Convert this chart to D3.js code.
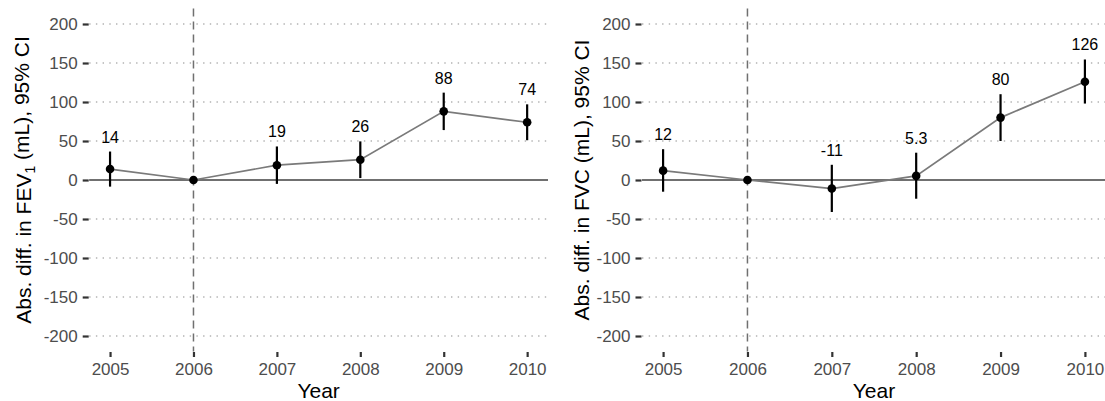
<!DOCTYPE html>
<html>
<head>
<meta charset="utf-8">
<script src="https://cdn.jsdelivr.net/npm/d3@7/dist/d3.min.js"></script>
<style>
  html, body { margin: 0; padding: 0; background: #fff; }
  svg { display: block; font-family: "Liberation Sans", Arial, sans-serif; }
</style>
</head>
<body>
<svg id="chart" width="1105" height="401"></svg>
<script>
// Years on the x axis
const years = [2005, 2006, 2007, 2008, 2009, 2010];
const referenceYear = 2006;

// FEV1: absolute difference vs reference year (mL) with 95% CI
const fevEstimate = [14, 0, 19, 26, 88, 74];
const fevLower    = [-8.5, null, -5, 2.5, 64, 51];
const fevUpper    = [36.5, null, 43, 49.5, 112, 97];
const fevLabels   = ["14", null, "19", "26", "88", "74"];

// FVC: absolute difference vs reference year (mL) with 95% CI
const fvcEstimate = [12, 0, -11, 5.3, 80, 126];
const fvcLower    = [-15, null, -41, -24, 50, 98];
const fvcUpper    = [39.5, null, 19.5, 35, 110, 154.5];
const fvcLabels   = ["12", null, "-11", "5.3", "80", "126"];

const yTicks = [-200, -150, -100, -50, 0, 50, 100, 150, 200];
const yDomain = [-220, 220];
const xDomain = [2004.75, 2010.25];

const svg = d3.select("#chart");
const plainNumber = d => String(d);   // ASCII hyphen for negatives

function drawPanel(cfg) {
  const x = d3.scaleLinear().domain(xDomain).range([cfg.left, cfg.right]);
  const y = d3.scaleLinear().domain(yDomain).range([351.6, 8.4]);
  const g = svg.append("g");

  // dotted horizontal grid
  g.selectAll("line.grid").data(yTicks).enter().append("line")
    .attr("x1", cfg.left).attr("x2", cfg.right)
    .attr("y1", d => y(d)).attr("y2", d => y(d))
    .attr("stroke", "#b3b3b3").attr("stroke-width", 1.4)
    .attr("stroke-dasharray", "1.4,5.3");

  // y axis ticks and labels
  const yAxis = d3.axisLeft(y).tickValues(yTicks).tickSize(6).tickPadding(5)
    .tickFormat(plainNumber);
  const ya = g.append("g").attr("transform", `translate(${cfg.left - 0.5},0)`).call(yAxis);
  ya.select(".domain").remove();
  ya.selectAll(".tick line").attr("stroke", "#333").attr("stroke-width", 2.2);
  ya.selectAll(".tick text").attr("fill", "#4d4d4d")
    .style("font-size", "17px").style("font-family", "Liberation Sans, Arial, sans-serif");

  // x axis ticks and labels
  const xAxis = d3.axisBottom(x).tickValues(years).tickSize(5).tickPadding(6)
    .tickFormat(plainNumber);
  const xa = g.append("g").attr("transform", `translate(0,352)`).call(xAxis);
  xa.select(".domain").remove();
  xa.selectAll(".tick line").attr("stroke", "#333").attr("stroke-width", 2.2);
  xa.selectAll(".tick text").attr("fill", "#4d4d4d")
    .style("font-size", "17px").style("font-family", "Liberation Sans, Arial, sans-serif");

  // zero reference line
  g.append("line")
    .attr("x1", cfg.left).attr("x2", cfg.right)
    .attr("y1", y(0)).attr("y2", y(0))
    .attr("stroke", "#707070").attr("stroke-width", 1.8);

  // reference year marker
  g.append("line")
    .attr("x1", x(referenceYear)).attr("x2", x(referenceYear))
    .attr("y1", y(yDomain[1])).attr("y2", y(yDomain[0]))
    .attr("stroke", "#707070").attr("stroke-width", 1.5)
    .attr("stroke-dasharray", "8,5");

  const data = years.map((yr, i) => ({
    year: yr, est: cfg.est[i], lo: cfg.lo[i], hi: cfg.hi[i], label: cfg.labels[i]
  }));

  // connecting line
  g.append("path").datum(data)
    .attr("fill", "none").attr("stroke", "#7a7a7a").attr("stroke-width", 1.7)
    .attr("d", d3.line().x(d => x(d.year)).y(d => y(d.est)));

  const withCI = data.filter(d => d.lo !== null);

  // confidence intervals
  g.selectAll("line.ci").data(withCI).enter().append("line")
    .attr("x1", d => x(d.year)).attr("x2", d => x(d.year))
    .attr("y1", d => y(d.lo)).attr("y2", d => y(d.hi))
    .attr("stroke", "#000").attr("stroke-width", 2.2);

  // point estimates
  g.selectAll("circle.pt").data(data).enter().append("circle")
    .attr("cx", d => x(d.year)).attr("cy", d => y(d.est)).attr("r", 4.3)
    .attr("fill", "#000");

  // value labels above CIs
  g.selectAll("text.val").data(withCI).enter().append("text")
    .attr("x", d => x(d.year)).attr("y", d => y(d.hi) - 9)
    .attr("text-anchor", "middle").attr("fill", "#000")
    .style("font-size", "16px")
    .text(d => d.label);

  // axis titles
  g.append("text")
    .attr("x", (cfg.left + cfg.right) / 2).attr("y", 398)
    .attr("text-anchor", "middle").attr("fill", "#000")
    .style("font-size", "21px").text("Year");

  const yt = g.append("text")
    .attr("transform", `translate(${cfg.titleX},${y(0)}) rotate(-90)`)
    .attr("text-anchor", "middle").attr("fill", "#000")
    .style("font-size", "21px");
  yt.append("tspan").text(cfg.titleA);
  if (cfg.titleSub) {
    yt.append("tspan").attr("dy", "0.3em").style("font-size", "14px").text(cfg.titleSub);
    yt.append("tspan").attr("dy", "-0.3em").text(cfg.titleB);
  }
}

drawPanel({
  left: 89.2, right: 548, titleX: 31,
  est: fevEstimate, lo: fevLower, hi: fevUpper, labels: fevLabels,
  titleA: "Abs. diff. in FEV", titleSub: "1", titleB: " (mL), 95% CI"
});

drawPanel({
  left: 642, right: 1106, titleX: 589,
  est: fvcEstimate, lo: fvcLower, hi: fvcUpper, labels: fvcLabels,
  titleA: "Abs. diff. in FVC (mL), 95% CI", titleSub: null, titleB: null
});
</script>
</body>
</html>
